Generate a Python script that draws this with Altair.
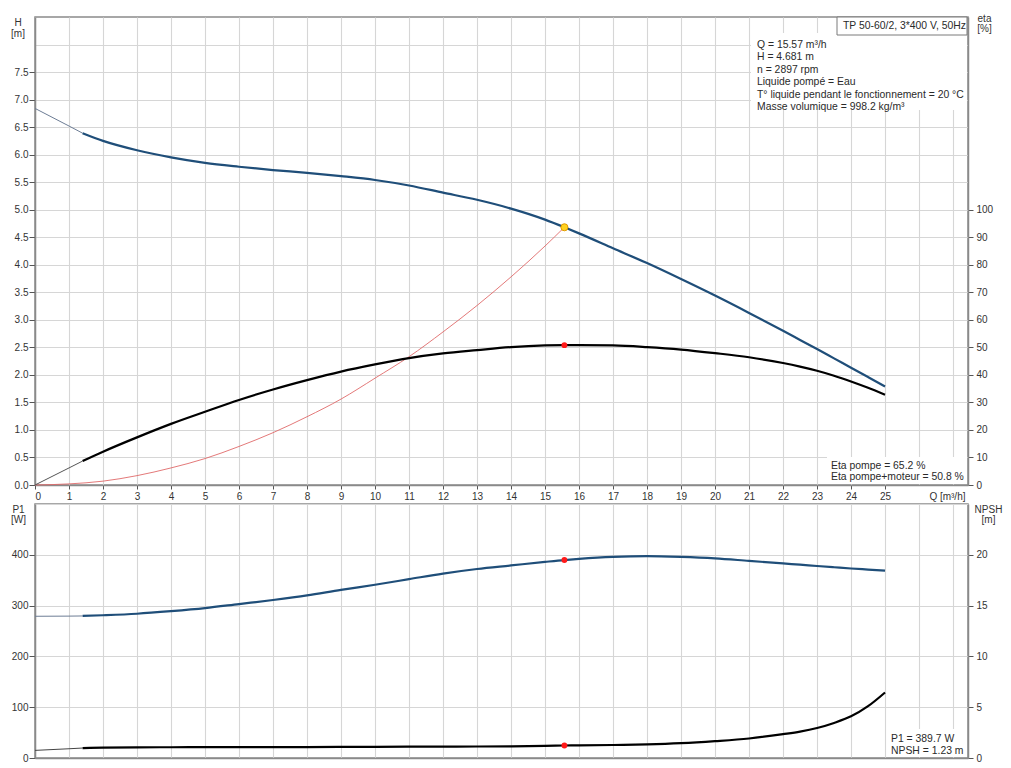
import altair as alt
import pandas as pd

# ---------------- data ----------------
Q = [0, 1, 1.4, 2, 3, 4, 5, 6, 7, 8, 9, 10, 11, 12, 13, 14, 15, 15.57,
     16, 17, 18, 19, 20, 21, 22, 22.5, 23, 23.5, 24, 24.5, 25]
H = [6.84, 6.52, 6.39, 6.25, 6.08, 5.95, 5.85, 5.78, 5.72, 5.67, 5.61, 5.54,
     5.44, 5.31, 5.18, 5.02, 4.82, 4.681, 4.57, 4.30, 4.03, 3.74, 3.44, 3.125,
     2.80, 2.635, 2.47, 2.30, 2.13, 1.96, 1.79]
ETA = [0, 6.2, 8.7, 12.1, 17.3, 22.2, 26.6, 30.9, 34.7, 38.1, 41.2, 43.8,
       46.1, 47.8, 49.0, 50.1, 50.7, 50.8, 50.8, 50.7, 50.1, 49.2, 47.9, 46.4,
       44.3, 43.0, 41.5, 39.7, 37.6, 35.3, 32.8]
P1 = [279, 279.3, 279.6, 281, 284, 289, 295, 303, 311, 320, 331, 341, 352,
      363, 372, 379, 386, 389.7, 392, 396, 397.5, 396, 393, 388, 383, 380.5,
      378, 375.5, 373, 371, 369]
NPSH = [0.75, 0.91, 0.98, 1.02, 1.05, 1.06, 1.07, 1.07, 1.08, 1.08, 1.09,
        1.10, 1.11, 1.12, 1.13, 1.15, 1.19, 1.23, 1.24, 1.28, 1.34, 1.46,
        1.66, 1.92, 2.35, 2.60, 2.95, 3.45, 4.10, 5.10, 6.45]
THIN_END = 1.4

Q_SYS = [0, 1, 2, 3, 4, 5, 6, 7, 8, 9, 10, 11, 12, 13, 14, 15, 15.57]
H_SYS = [0, 0.02, 0.07, 0.17, 0.31, 0.48, 0.70, 0.95, 1.24, 1.56, 1.94,
         2.33, 2.78, 3.26, 3.78, 4.34, 4.681]

DUTY_Q, DUTY_H, DUTY_ETA, DUTY_P1, DUTY_NPSH = 15.57, 4.681, 50.8, 389.7, 1.23

Q_TICKS = list(range(0, 28))
H_TICKS = [i * 0.5 for i in range(0, 17)]
ETA_TICKS = list(range(0, 101, 10))
P1_TICKS = [0, 100, 200, 300, 400, 500]
NPSH_TICKS = [0, 5, 10, 15, 20]

TITLE_TEXT = "TP 50-60/2, 3*400 V, 50Hz"
INFO_LINES = ["Q = 15.57 m³/h", "H = 4.681 m", "n = 2897 rpm",
              "Liquide pompé = Eau",
              "T° liquide pendant le fonctionnement = 20 °C",
              "Masse volumique = 998.2 kg/m³"]
ETA_LINES = ["Eta pompe = 65.2 %", "Eta pompe+moteur = 50.8 %"]
P1_LINES = ["P1 = 389.7 W", "NPSH = 1.23 m"]

# ---------------- styling ----------------
W, HT, HB = 933, 468, 254
QMAX = 27.44
FONT = "Liberation Sans"
GRID = "#d6d6d6"
AXC = "#8a8a8a"
BLUE = "#1f4e79"
TXT = "#2a2a2a"
NOTE_FS = 10.4

df = pd.DataFrame(dict(Q=Q, H=H, eta=ETA, P1=P1, NPSH=NPSH))
thin = df[df.Q <= THIN_END]
thick = df[df.Q >= THIN_END]
sys_df = pd.DataFrame(dict(Q=Q_SYS, H=H_SYS))
duty = pd.DataFrame(dict(Q=[DUTY_Q], H=[DUTY_H], eta=[DUTY_ETA],
                         P1=[DUTY_P1], NPSH=[DUTY_NPSH]))
one = pd.DataFrame({"a": [0]})

xs = alt.Scale(domain=[0, QMAX], nice=False, zero=False)


def hide_above(v):
    return {"condition": {"test": f"datum.value > {v}", "value": 0}, "value": 1}


x_top = alt.X("Q:Q", scale=xs, axis=alt.Axis(
    values=Q_TICKS, grid=True, gridColor=GRID,
    labelExpr="datum.value > 25 ? '' : datum.label",
    tickOpacity=hide_above(25.5), tickSize=4, labelPadding=2,
    title="Q [m³/h]", titleX=W - 3, titleY=6, titleAlign="right",
    titleBaseline="top", titleFontWeight="normal"))
x_bot = alt.X("Q:Q", scale=xs, axis=alt.Axis(
    values=Q_TICKS, grid=True, gridColor=GRID, labels=False, ticks=False,
    title=None))

y_H = alt.Y("H:Q", scale=alt.Scale(domain=[0, 8.5], nice=False), axis=alt.Axis(
    orient="left", values=H_TICKS, format=".1f",
    labelExpr="datum.value > 7.6 ? '' : datum.label",
    tickOpacity=hide_above(7.6), grid=True, gridColor=GRID,
    tickSize=6, labelPadding=1, minExtent=0,
    title=["H", "[m]"], titleAngle=0, titleAlign="center",
    titleBaseline="top", titleX=-17.5, titleY=0, titleLineHeight=11,
    titleFontWeight="normal"))
y_eta = alt.Y("eta:Q", scale=alt.Scale(domain=[0, 170], nice=False), axis=alt.Axis(
    orient="right", values=ETA_TICKS, grid=False, tickSize=5, labelPadding=3,
    minExtent=0,
    title=["eta", "[%]"], titleAngle=0, titleAlign="center",
    titleBaseline="top", titleX=16, titleY=-4, titleLineHeight=10.5,
    titleFontWeight="normal"))
y_P1 = alt.Y("P1:Q", scale=alt.Scale(domain=[0, 500], nice=False), axis=alt.Axis(
    orient="left", values=P1_TICKS,
    labelExpr="datum.value > 450 ? '' : datum.label",
    tickOpacity=hide_above(450), grid=True, gridColor=GRID,
    tickSize=6, labelPadding=1, minExtent=0,
    title=["P1", "[W]"], titleAngle=0, titleAlign="center",
    titleBaseline="top", titleX=-17, titleY=0, titleLineHeight=10.5,
    titleFontWeight="normal"))
y_N = alt.Y("NPSH:Q", scale=alt.Scale(domain=[0, 25], nice=False), axis=alt.Axis(
    orient="right", values=NPSH_TICKS, grid=False, tickSize=5, labelPadding=3,
    minExtent=0,
    title=["NPSH", "[m]"], titleAngle=0, titleAlign="center",
    titleBaseline="top", titleX=20, titleY=0, titleLineHeight=10.5,
    titleFontWeight="normal"))


def box(x1, x2, y1, y2, stroke=None):
    kw = dict(fill="white")
    if stroke:
        kw.update(stroke=stroke, strokeWidth=1)
    return alt.Chart(one).mark_rect(**kw).encode(
        x=alt.value(x1), x2=alt.value(x2), y=alt.value(y1), y2=alt.value(y2))


def label(lines, x, y, align="left", lh=12.5, size=NOTE_FS):
    return alt.Chart(one).mark_text(
        align=align, baseline="top", font=FONT, fontSize=size,
        color=TXT, lineHeight=lh).encode(
        x=alt.value(x), y=alt.value(y), text=alt.value(lines))


# ---------------- top panel ----------------
h_thin = alt.Chart(thin).mark_line(color="#6d7d95", strokeWidth=1).encode(x=x_top, y=y_H)
h_thick = alt.Chart(thick).mark_line(color=BLUE, strokeWidth=2.2,
                                     interpolate="monotone").encode(x=x_top, y=y_H)
sys_line = alt.Chart(sys_df).mark_line(color="#e06a6a", strokeWidth=0.9,
                                       interpolate="monotone").encode(x=x_top, y=y_H)
duty_h = alt.Chart(duty).mark_point(filled=True, fill="#ffd21f", stroke="#e09a00",
                                    strokeWidth=1, size=50, opacity=1).encode(x=x_top, y=y_H)

top_h = alt.layer(
    box(716, W - 1, 16, 93),
    box(802, W - 1, 0, 18, stroke="#7a7a7a"),
    box(792, W - 1, 440, HT - 1),
    h_thin, h_thick, sys_line, duty_h,
    label([TITLE_TEXT], W - 2, 4, align="right"),
    label(INFO_LINES, 722, 22.5),
    label(ETA_LINES, 796, 443.5, lh=11.6),
)

e_thin = alt.Chart(thin).mark_line(color="#555555", strokeWidth=1).encode(x=x_top, y=y_eta)
e_thick = alt.Chart(thick).mark_line(color="black", strokeWidth=2.2,
                                     interpolate="monotone").encode(x=x_top, y=y_eta)
duty_e = alt.Chart(duty).mark_point(filled=True, color="#ff1a1a", size=34,
                                    opacity=1).encode(x=x_top, y=y_eta)
top_e = alt.layer(e_thin, e_thick, duty_e)

top = alt.layer(top_h, top_e).resolve_scale(y="independent").properties(width=W, height=HT)

# ---------------- bottom panel ----------------
p_thin = alt.Chart(thin).mark_line(color="#6d7d95", strokeWidth=1).encode(x=x_bot, y=y_P1)
p_thick = alt.Chart(thick).mark_line(color=BLUE, strokeWidth=2.2,
                                     interpolate="monotone").encode(x=x_bot, y=y_P1)
duty_p = alt.Chart(duty).mark_point(filled=True, color="#ff1a1a", size=34,
                                    opacity=1).encode(x=x_bot, y=y_P1)
bot_p = alt.layer(
    box(852, W - 1, 225, HB - 1),
    p_thin, p_thick, duty_p,
    label(P1_LINES, 856, 230, lh=12.3),
)

n_thin = alt.Chart(thin).mark_line(color="#444444", strokeWidth=1).encode(x=x_bot, y=y_N)
n_thick = alt.Chart(thick).mark_line(color="black", strokeWidth=2.2,
                                     interpolate="monotone").encode(x=x_bot, y=y_N)
duty_n = alt.Chart(duty).mark_point(filled=True, color="#ff1a1a", size=34,
                                    opacity=1).encode(x=x_bot, y=y_N)
bot_n = alt.layer(n_thin, n_thick, duty_n)

bottom = alt.layer(bot_p, bot_n).resolve_scale(y="independent").properties(width=W, height=HB)

chart = alt.vconcat(top, bottom, spacing=19, bounds="flush").properties(
    padding={"left": 1, "top": 4, "right": 0, "bottom": 0}
).configure(font=FONT).configure_view(
    stroke=AXC, strokeWidth=1.5
).configure_axis(
    domainColor=AXC, domainWidth=1.5, tickColor="#555555", tickWidth=1,
    labelFont=FONT, labelFontSize=10, labelColor="#333333",
    titleFont=FONT, titleFontSize=10, titleColor="#333333", gridWidth=1.1
)

chart.save("out.html", embed_options={"renderer": "svg", "actions": False})
